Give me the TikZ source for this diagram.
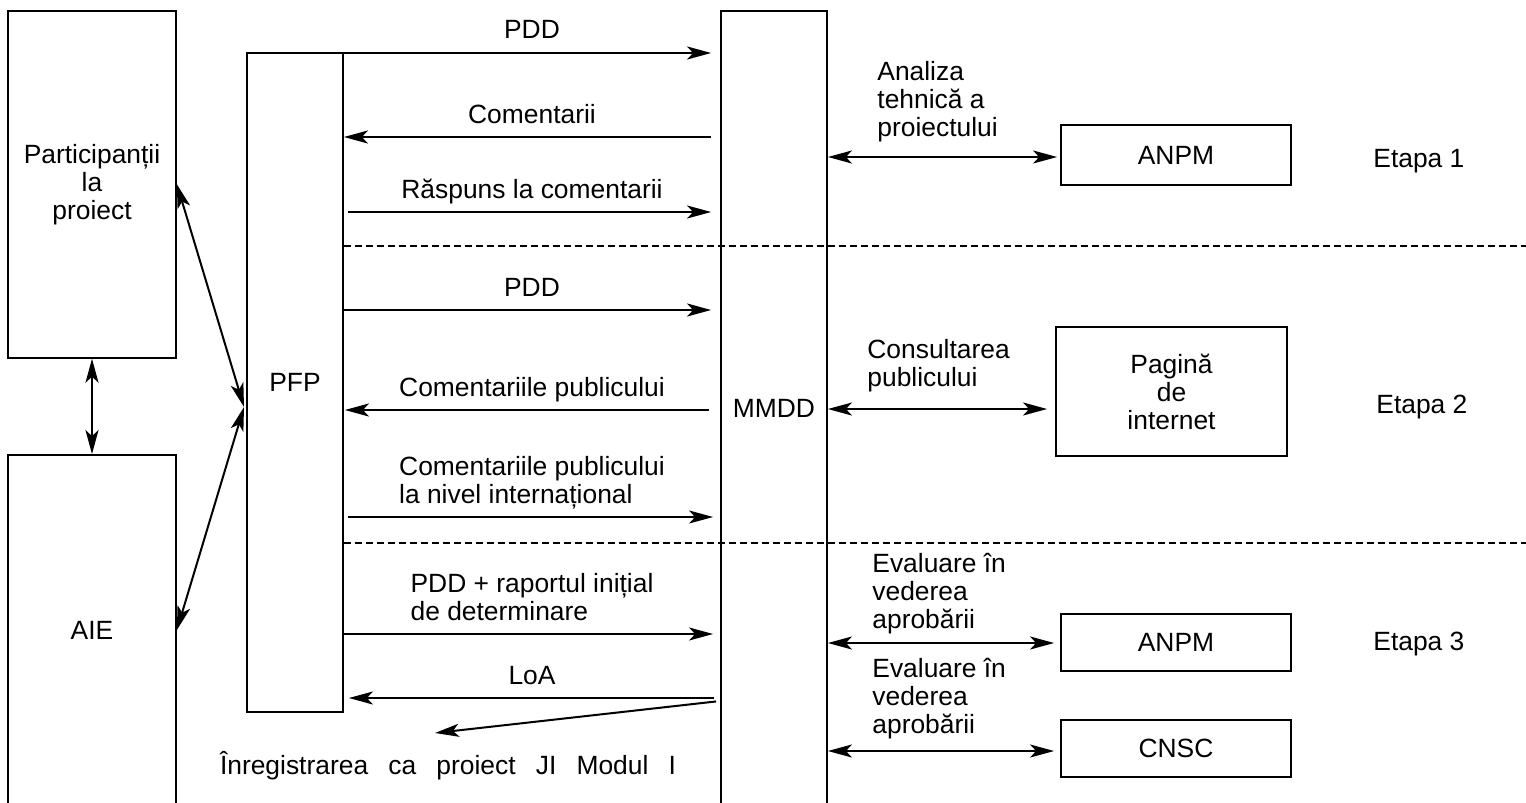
\documentclass[tikz,border=0pt]{standalone}
\usepackage{fontspec}
\setmainfont{Liberation Sans}
\usepackage{tikz}
\usetikzlibrary{arrows.meta}
\tikzset{
	>={Stealth[length=12pt, width=6.5pt, inset=3pt]}, % varfuri de sageata pline
	caseta/.style={draw, rectangle, line width=.9pt, align=center}, % casetele
	sageata/.style={line width=1pt}, % liniile cu sageti
	eticheta/.style={above, inner sep=0pt, text depth=0pt, yshift=6.5pt, align=left}, % textul de deasupra sagetilor
	nota/.style={anchor=south west, inner sep=0pt, text depth=0pt, align=left}, % textele din dreapta
	separator/.style={dash pattern=on 3.5pt off 2pt, line width=.6pt} % liniile dintre etape
}

\begin{document}
\begin{tikzpicture}[x=0.5pt, y=-0.5pt, font=\fontsize{13.2}{14}\selectfont]
	\useasboundingbox (0,0) rectangle (1526,803);

	\node[caseta, minimum width=84pt, minimum height=173.5pt] (part) at (92,184.3) {Participanții\\la\\proiect};
	\node[caseta, minimum width=84pt, minimum height=175pt] (aie) at (92,630) {AIE};
	\node[caseta, minimum width=48pt, minimum height=329.5pt] (pfp) at (295,382.5) {PFP};
	\node[caseta, minimum width=53pt, minimum height=397pt] (mmdd) at (774,408) {MMDD};

	\node[caseta, minimum width=115pt, minimum height=30pt] (anpm1) at (1176,155) {ANPM};
	\node[caseta, minimum width=115.5pt, minimum height=64.5pt] (pag) at (1171.5,391.5) {Pagină\\de\\internet};
	\node[caseta, minimum width=115pt, minimum height=28.5pt] (anpm2) at (1176,642.5) {ANPM};
	\node[caseta, minimum width=115pt, minimum height=28.5pt] (cnsc) at (1176,748.5) {CNSC};

	\node[anchor=base west, inner sep=0pt] (et1) at (1373,167) {Etapa 1};
	\node[anchor=base west, inner sep=0pt] (et2) at (1376,413) {Etapa 2};
	\node[anchor=base west, inner sep=0pt] (et3) at (1373,650) {Etapa 3};

	\node[nota] (t1) at (877,137) {Analiza\\tehnică a\\proiectului};
	\node[nota] (t2) at (867,387) {Consultarea\\publicului};
	\node[nota] (t3) at (872,629) {Evaluare în\\vederea\\aprobării};
	\node[nota] (t4) at (872,734) {Evaluare în\\vederea\\aprobării};

	\node[anchor=base, inner sep=0pt] (inreg) at (448,774) {\makebox[228pt][s]{Înregistrarea ca proiect JI Modul I}};

	% randurile sagetilor
	\coordinate (y1) at (0,53);
	\coordinate (y2) at (0,137);
	\coordinate (y3) at (0,212);
	\coordinate (y4) at (0,310);
	\coordinate (y5) at (0,410);
	\coordinate (y6) at (0,517);
	\coordinate (y7) at (0,634);
	\coordinate (y8) at (0,698);
	\coordinate (y9) at (0,701);
	\coordinate (inr) at (435,733);
	\coordinate (pin) at (244,407);
	\coordinate (d1) at (1526,246);
	\coordinate (d2) at (1526,543);
	\coordinate (r1) at (0,157);
	\coordinate (r2) at (0,409);
	\coordinate (r3) at (0,643);
	\coordinate (r4) at (0,751);

	\draw[separator] (pfp.east |- d1) -- (d1)
		(pfp.east |- d2) -- (d2);

	\draw[sageata]	(pfp.east |- y1) edge[->, shorten >=4.5pt] node[eticheta]{PDD} (mmdd.west |- y1)
			(mmdd.west |- y2) edge[->, shorten <=4.5pt] node[eticheta]{Comentarii} (pfp.east |- y2)
			(pfp.east |- y3) edge[->, shorten <=2pt, shorten >=4.5pt] node[eticheta]{Răspuns la comentarii} (mmdd.west |- y3)
			(pfp.east |- y4) edge[->, shorten >=4.5pt] node[eticheta]{PDD} (mmdd.west |- y4)
			(mmdd.west |- y5) edge[->, shorten <=5.5pt, shorten >=.5pt] node[eticheta]{Comentariile publicului} (pfp.east |- y5)
			(pfp.east |- y6) edge[->, shorten <=2pt, shorten >=3.5pt] node[eticheta]{Comentariile publicului\\la nivel internațional} (mmdd.west |- y6)
			(pfp.east |- y7) edge[->, shorten >=3.5pt] node[eticheta]{PDD + raportul inițial\\de determinare} (mmdd.west |- y7)
			(mmdd.west |- y8) edge[->, shorten <=3pt, shorten >=2.5pt] node[eticheta]{LoA} (pfp.east |- y8)
			(mmdd.west |- y9) edge[->, shorten <=2pt] (inr)
			(part.east) edge[<->] (pin)
			(aie.east) edge[<->] (pin)
			(part.south) edge[<->] (aie.north)
			(mmdd.east |- r1) edge[<->, shorten >=1.5pt] (anpm1.west |- r1)
			(mmdd.east |- r2) edge[<->, shorten >=4pt] (pag.west |- r2)
			(mmdd.east |- r3) edge[<->, shorten >=3pt] (anpm2.west |- r3)
			(mmdd.east |- r4) edge[<->, shorten >=3pt] (cnsc.west |- r4);
\end{tikzpicture}
\end{document}
